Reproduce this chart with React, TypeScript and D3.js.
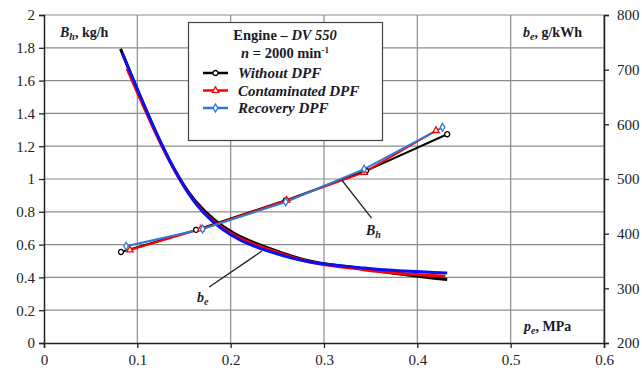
import React, { useRef, useEffect } from 'react';
import * as d3 from 'd3';

// effective pressure p_e, MPa
const bhWithoutX = [0.0825, 0.163, 0.259, 0.345, 0.432];
const bhWithoutY = [0.555, 0.69, 0.87, 1.05, 1.273];
const bhContamX = [0.092, 0.168, 0.26, 0.343, 0.42];
const bhContamY = [0.567, 0.695, 0.87, 1.04, 1.295];
const bhRecoveryX = [0.088, 0.17, 0.259, 0.343, 0.427];
const bhRecoveryY = [0.59, 0.695, 0.86, 1.06, 1.315];

// specific fuel consumption b_e, g/kWh
const beWithoutX = [0.082, 0.163, 0.26, 0.345, 0.432];
const beWithoutY = [738, 458, 362, 335, 316];
const beContamX = [0.089, 0.168, 0.26, 0.343, 0.43];
const beContamY = [702, 445, 360, 334, 322];
const beRecoveryX = [0.084, 0.17, 0.26, 0.343, 0.432];
const beRecoveryY = [730, 440, 358, 337, 328];

const xTicks = [0, 0.1, 0.2, 0.3, 0.4, 0.5, 0.6];
const leftTicks = [0, 0.2, 0.4, 0.6, 0.8, 1, 1.2, 1.4, 1.6, 1.8, 2];
const rightTicks = [200, 300, 400, 500, 600, 700, 800];

const serif = '"Liberation Serif", "Times New Roman", serif';

const zip = (xs: number[], ys: number[]) => xs.map((x, i) => [x, ys[i]] as [number, number]);

const Chart = () => {
  const svgRef = useRef<SVGSVGElement>(null);

  useEffect(() => {
    const svg = d3.select(svgRef.current);
    svg.selectAll('*').remove();

    const x = d3.scaleLinear().domain([0, 0.6]).range([44, 604]);
    const yL = d3.scaleLinear().domain([0, 2]).range([343, 15]);
    const yR = d3.scaleLinear().domain([200, 800]).range([343, 15]);

    svg.append('rect').attr('width', 642).attr('height', 371).attr('fill', '#fff');

    // grid
    const grid = svg.append('g').attr('stroke', '#8c8c8c').attr('stroke-width', 1.2);
    leftTicks.slice(1).forEach(t => {
      grid.append('line').attr('x1', x(0)).attr('x2', x(0.6)).attr('y1', yL(t)).attr('y2', yL(t));
    });
    xTicks.slice(1).forEach(t => {
      grid.append('line').attr('x1', x(t)).attr('x2', x(t)).attr('y1', yL(0)).attr('y2', yL(2));
    });

    const fmt = d3.format('~g');
    const left = svg.append('g').attr('transform', `translate(${x(0)},0)`)
      .call(d3.axisLeft(yL).tickValues(leftTicks).tickFormat(d => fmt(d as number)).tickSize(5).tickPadding(4));
    const right = svg.append('g').attr('transform', `translate(${x(0.6)},0)`)
      .call(d3.axisRight(yR).tickValues(rightTicks).tickFormat(d => fmt(d as number)).tickSize(5).tickPadding(8));
    const bottom = svg.append('g').attr('transform', `translate(0,${yL(0)})`)
      .call(d3.axisBottom(x).tickValues(xTicks).tickFormat(d => fmt(d as number)).tickSize(5).tickPadding(6));
    [left, right, bottom].forEach(a => {
      a.select('.domain').attr('stroke', '#222').attr('stroke-width', 1.5);
      a.selectAll('.tick line').attr('stroke', '#222').attr('stroke-width', 1.3);
      a.selectAll('.tick text').attr('font-family', serif).attr('font-size', 15).attr('fill', '#222');
    });

    // b_e curves
    const beLine = d3.line<[number, number]>()
      .x(d => x(d[0])).y(d => yR(d[1]))
      .curve(d3.curveMonotoneX);
    const beSeries = [
      { pts: zip(beWithoutX, beWithoutY), color: '#000000' },
      { pts: zip(beContamX, beContamY), color: '#ff0000' },
      { pts: zip(beRecoveryX, beRecoveryY), color: '#0a10f5' },
    ];
    beSeries.forEach(s => {
      svg.append('path').attr('d', beLine(s.pts)).attr('fill', 'none')
        .attr('stroke', s.color).attr('stroke-width', 3);
    });

    // B_h lines
    const bhLine = d3.line<[number, number]>().x(d => x(d[0])).y(d => yL(d[1]));
    const bhSeries = [
      { pts: zip(bhWithoutX, bhWithoutY), color: '#000000', marker: 'circle' },
      { pts: zip(bhContamX, bhContamY), color: '#ff0000', marker: 'triangle' },
      { pts: zip(bhRecoveryX, bhRecoveryY), color: '#2f78d6', marker: 'diamond' },
    ];
    const drawMarker = (g: any, type: string, cx: number, cy: number, color: string) => {
      const sym = type === 'circle' ? d3.symbolCircle : type === 'triangle' ? d3.symbolTriangle : d3.symbolDiamond;
      g.append('path').attr('d', d3.symbol().type(sym).size(type === 'circle' ? 20 : 18)())
        .attr('transform', `translate(${cx},${cy})`)
        .attr('fill', '#fff').attr('stroke', color).attr('stroke-width', 1.3);
    };
    bhSeries.forEach(s => {
      svg.append('path').attr('d', bhLine(s.pts)).attr('fill', 'none')
        .attr('stroke', s.color).attr('stroke-width', 2);
    });
    bhSeries.forEach(s => {
      const g = svg.append('g');
      s.pts.forEach(p => drawMarker(g, s.marker, x(p[0]), yL(p[1]), s.color));
    });

    // annotations
    svg.append('line').attr('x1', x(0.319)).attr('y1', yL(0.994)).attr('x2', x(0.351)).attr('y2', yL(0.762))
      .attr('stroke', '#222').attr('stroke-width', 1.3);
    svg.append('line').attr('x1', x(0.177)).attr('y1', yL(0.341)).attr('x2', x(0.2336)).attr('y2', yL(0.561))
      .attr('stroke', '#222').attr('stroke-width', 1.3);

    const label = (lx: number, ly: number, main: string, sub: string, rest: string, anchor = 'start') => {
      const t = svg.append('text').attr('x', lx).attr('y', ly).attr('font-family', serif)
        .attr('font-size', 14).attr('font-weight', 'bold').attr('fill', '#1a1a2a').attr('text-anchor', anchor);
      t.append('tspan').attr('font-style', 'italic').text(main);
      t.append('tspan').attr('font-style', 'italic').attr('font-size', 10).attr('dy', 3).text(sub);
      if (rest) t.append('tspan').attr('dy', -3).text(rest);
    };
    label(x(0.345), yL(0.66), 'B', 'h', '');
    label(x(0.164), yL(0.25), 'b', 'e', '');
    label(60, 37, 'B', 'h', ', kg/h');
    label(523, 37, 'b', 'e', ', g/kWh');
    label(524, 331, 'p', 'e', ', MPa');

    // legend
    const lg = svg.append('g');
    lg.append('rect').attr('x', 188.5).attr('y', 22.5).attr('width', 194).attr('height', 118)
      .attr('fill', '#fff').attr('stroke', '#444').attr('stroke-width', 1.2);
    const t1 = lg.append('text').attr('x', 285).attr('y', 40).attr('text-anchor', 'middle')
      .attr('font-family', serif).attr('font-size', 14.5).attr('font-weight', 'bold').attr('fill', '#1a1a2a');
    t1.append('tspan').text('Engine – ');
    t1.append('tspan').attr('font-style', 'italic').text('DV 550');
    const t2 = lg.append('text').attr('x', 285).attr('y', 58).attr('text-anchor', 'middle')
      .attr('font-family', serif).attr('font-size', 14.5).attr('font-weight', 'bold').attr('fill', '#1a1a2a');
    t2.append('tspan').attr('font-style', 'italic').text('n');
    t2.append('tspan').text(' = 2000 min');
    t2.append('tspan').attr('font-size', 9).attr('dy', -5).text('-1');
    const names = ['Without DPF', 'Contaminated DPF', 'Recovery DPF'];
    bhSeries.forEach((s, i) => {
      const ly = 73 + i * 17.5;
      lg.append('line').attr('x1', 203).attr('x2', 228).attr('y1', ly).attr('y2', ly)
        .attr('stroke', s.color).attr('stroke-width', 2.5);
      drawMarker(lg, s.marker, 215.5, ly, s.color);
      lg.append('text').attr('x', 238).attr('y', ly + 5).attr('font-family', serif).attr('font-size', 15)
        .attr('font-weight', 'bold').attr('font-style', 'italic').attr('fill', '#1a1a2a').text(names[i]);
    });
  }, []);

  return <svg ref={svgRef} width={642} height={371} style={{ display: 'block' }}></svg>;
};

export default function App() {
  useEffect(() => {
    document.body.style.margin = '0';
  }, []);
  return <Chart />;
}
